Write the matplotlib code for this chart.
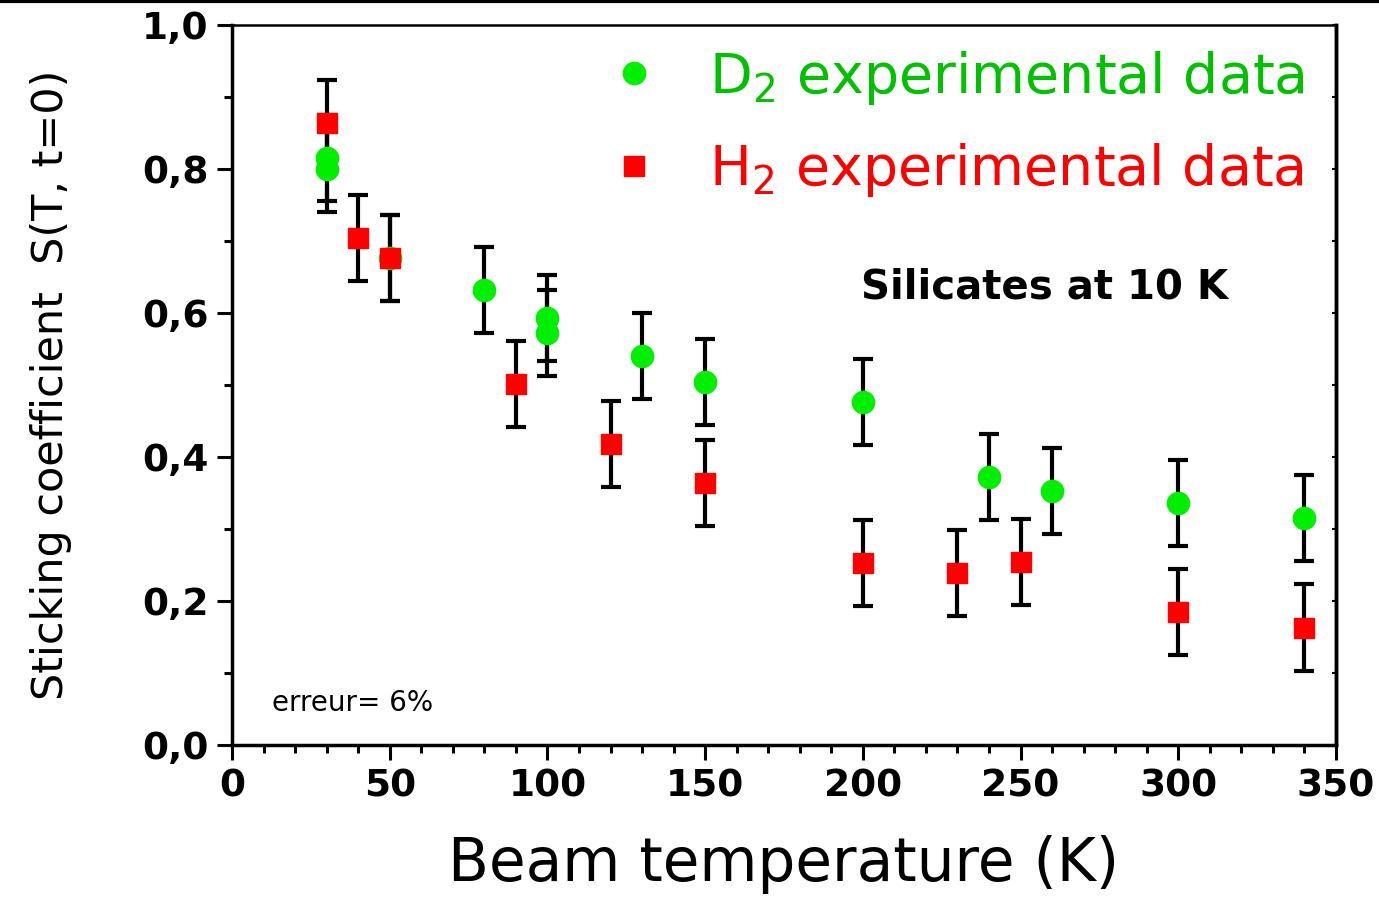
import numpy as np
import matplotlib
matplotlib.use("Agg")
import matplotlib.pyplot as plt
from matplotlib.ticker import MultipleLocator, FuncFormatter
from matplotlib.lines import Line2D

plt.rcParams['font.family'] = ['DejaVu Sans']
plt.rcParams['mathtext.fontset'] = 'dejavusans'

# D2 data (beam temperature K, sticking coefficient)
d2_temp = [30, 30, 50, 80, 100, 100, 130, 150, 200, 240, 260, 300, 340]
d2_stick = [0.815, 0.800, 0.676, 0.632, 0.593, 0.572, 0.540, 0.504, 0.476, 0.372, 0.353, 0.336, 0.315]

# H2 data
h2_temp = [30, 40, 50, 90, 120, 150, 200, 230, 250, 300, 340]
h2_stick = [0.864, 0.704, 0.676, 0.501, 0.418, 0.364, 0.253, 0.239, 0.254, 0.185, 0.163]

err = 0.06

fig = plt.figure(figsize=(13.79, 9.01), dpi=100)
ax = fig.add_axes([232 / 1379, 156 / 901, 1104 / 1379, 720 / 901])

ebkw = dict(ls="none", ecolor="black", elinewidth=3, capsize=7, capthick=3)
ax.errorbar(d2_temp, d2_stick, yerr=err, marker="o", ms=16, mfc="#00ee00", mec="#00ee00", **ebkw)
ax.errorbar(h2_temp, h2_stick, yerr=err, marker="s", ms=14, mfc="red", mec="red", **ebkw)

ax.set_xlim(0, 350)
ax.set_ylim(0, 1.0)
ax.xaxis.set_major_locator(MultipleLocator(50))
ax.xaxis.set_minor_locator(MultipleLocator(10))
ax.yaxis.set_major_locator(MultipleLocator(0.2))
ax.yaxis.set_minor_locator(MultipleLocator(0.1))
ax.yaxis.set_major_formatter(FuncFormatter(lambda v, p: f"{v:.1f}".replace(".", ",")))

ax.tick_params(which="major", direction="out", length=11, width=2.2, labelsize=27, pad=6)
ax.tick_params(which="minor", direction="out", length=6, width=2.2)
for lab in ax.get_xticklabels() + ax.get_yticklabels():
    lab.set_fontweight("bold")

for side in ["left", "bottom", "right"]:
    ax.spines[side].set_linewidth(2.5)
ax.spines["top"].set_linewidth(1.8)

# small inward ticks on right spine
sec = ax.secondary_yaxis("right")
sec.yaxis.set_major_locator(MultipleLocator(0.1))
sec.tick_params(direction="in", length=3, width=1.5, labelright=False)
sec.spines["right"].set_linewidth(2.5)

ax.set_xlabel("Beam temperature (K)", fontsize=43, labelpad=22)
ax.set_ylabel("Sticking coefficient  S(T, t=0)", fontsize=31)
ax.yaxis.set_label_coords(-0.145, 0.5)

ax.text(0.57, 0.62, "Silicates at 10 K", transform=ax.transAxes, fontsize=29, fontweight="bold")
ax.text(0.036, 0.047, "erreur= 6%", transform=ax.transAxes, fontsize=20)

leg_handles = [
    Line2D([], [], ls="none", marker="o", ms=16, mfc="#00ee00", mec="#00ee00"),
    Line2D([], [], ls="none", marker="s", ms=14, mfc="red", mec="red"),
]
leg = ax.legend(leg_handles, [r"D$_{2}$ experimental data", r"H$_{2}$ experimental data"],
                loc="upper right", bbox_to_anchor=(0.972, 0.967), frameon=False,
                borderaxespad=0, borderpad=0, handletextpad=0.95, labelspacing=0.62,
                handlelength=0.8, labelcolor=["#00c000", "red"], prop={"size": 40})

fig.add_artist(Line2D([0, 1], [0.9985, 0.9985], color="black", lw=3, transform=fig.transFigure))

fig.savefig("out.png", dpi=100)
